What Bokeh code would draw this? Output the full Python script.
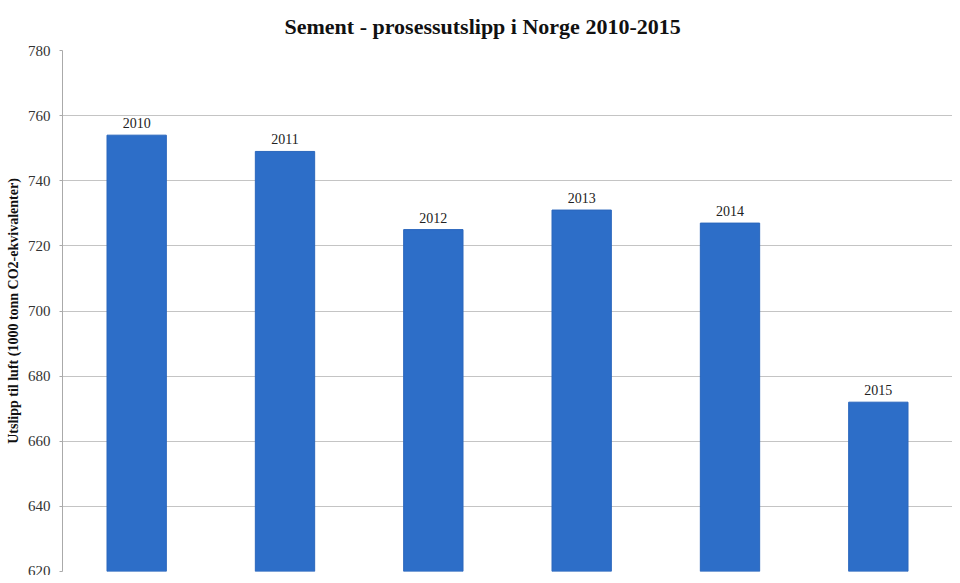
from bokeh.plotting import figure
from bokeh.models import ColumnDataSource, LabelSet, Title
from bokeh.embed import file_html
from bokeh.resources import INLINE

years = ["2010", "2011", "2012", "2013", "2014", "2015"]
values = [754, 749, 725, 731, 727, 672]
y_ticks = [620, 640, 660, 680, 700, 720, 740, 760, 780]

SERIF = "Liberation Serif"

src = ColumnDataSource(dict(year=years, val=values, lab=years))

p = figure(x_range=years, y_range=(620, 780), width=952, height=575,
           output_backend="svg", toolbar_location=None, x_axis_location=None,
           min_border_left=62, min_border_right=0, min_border_bottom=4,
           min_border_top=0)
p.title = Title(text="Sement - prosessutslipp i Norge 2010-2015", align="left",
                offset=222, text_font=SERIF, text_font_size="22px",
                text_font_style="bold", text_color="#111111", standoff=23)

p.vbar(x="year", top="val", bottom=620, width=0.4, source=src,
       fill_color="#2D6EC8", line_color="#2A66BC", line_width=1)

p.add_layout(LabelSet(x="year", y="val", text="lab", source=src,
                      text_align="center", text_baseline="bottom", y_offset=7,
                      text_font=SERIF, text_font_size="14px", text_color="#222222"))

p.xgrid.grid_line_color = None
p.ygrid.grid_line_color = "#C4C4C4"
p.ygrid.grid_line_width = 1
p.yaxis.ticker = y_ticks
p.yaxis.axis_line_color = "#AAAAAA"
p.yaxis.major_tick_line_color = "#AAAAAA"
p.yaxis.major_tick_out = 3
p.yaxis.major_tick_in = 0
p.yaxis.major_label_standoff = 9
p.yaxis.minor_tick_line_color = None
p.yaxis.major_label_text_font = SERIF
p.yaxis.major_label_text_font_size = "15px"
p.yaxis.major_label_text_color = "#333333"
p.yaxis.axis_label = "Utslipp til luft (1000 tonn CO2-ekvivalenter)"
p.yaxis.axis_label_text_font = SERIF
p.yaxis.axis_label_text_font_size = "14px"
p.yaxis.axis_label_text_font_style = "bold"
p.yaxis.axis_label_text_color = "#111111"
p.yaxis.axis_label_standoff = 4
p.outline_line_color = None
p.background_fill_color = "white"
p.border_fill_color = "white"

open("out.html", "w").write(file_html(p, INLINE))
